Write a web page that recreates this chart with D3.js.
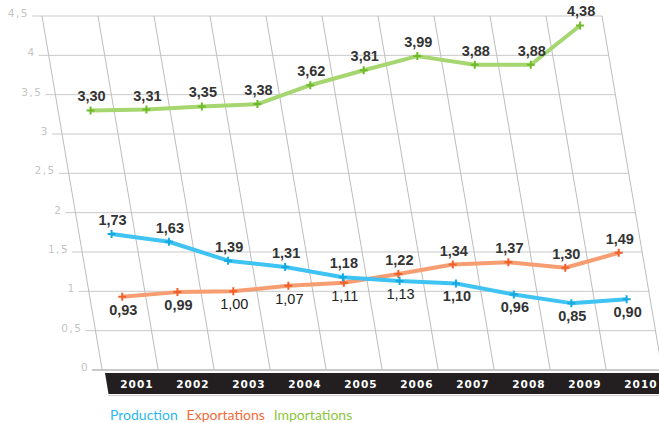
<!DOCTYPE html>
<html>
<head>
<meta charset="utf-8">
<script src="https://cdn.jsdelivr.net/npm/d3@7"></script>
<style>
  html, body { margin: 0; padding: 0; background: #fff; }
  svg { display: block; }
</style>
</head>
<body>
<svg id="chart" width="659" height="423"></svg>
<script>
/* global d3 */

// data
const years = ['2001', '2002', '2003', '2004', '2005', '2006', '2007', '2008', '2009', '2010'];
const production = [1.73, 1.63, 1.39, 1.31, 1.18, 1.13, 1.10, 0.96, 0.85, 0.90];
const exportations = [0.93, 0.99, 1.00, 1.07, 1.11, 1.22, 1.34, 1.37, 1.30, 1.49];
const importations = [3.30, 3.31, 3.35, 3.38, 3.62, 3.81, 3.99, 3.88, 3.88, 4.38];
const yTicks = [0, 0.5, 1, 1.5, 2, 2.5, 3, 3.5, 4, 4.5];
const seriesNames = ['Production', 'Exportations', 'Importations'];

// where each value label sits (1 = above the point)
const productionSide = [1, 1, 1, 1, 1, 0, 0, 0, 0, 0];
const exportationsSide = [0, 0, 0, 0, 0, 1, 1, 1, 1, 1];
const importationsSide = [1, 1, 1, 1, 1, 1, 1, 1, 1, 1];

const svg = d3.select('#chart');
const W = 659;
const plotTop = 16;
const plotBottom = 370;
const skew = 0.17;
const sx = (x, y) => x + skew * (y - plotTop);

const yScale = d3.scaleLinear().domain([0, 4.5]).range([plotBottom, plotTop]);
const xScale = d3.scaleBand().domain(years).range([42, 602]);
const xc = yr => xScale(yr) + xScale.bandwidth() / 2 + 4.5;

const fmt = v => v.toFixed(2).replace('.', ',');
const fmtTick = v => String(v).replace('.', ',');

const grid = svg.append('g');

// horizontal grid lines
grid.selectAll('.hgrid').data(yTicks).enter()
  .append('line')
  .attr('class', 'hgrid')
  .attr('x1', d => sx(32, yScale(d)))
  .attr('x2', d => sx(602, yScale(d)))
  .attr('y1', d => yScale(d))
  .attr('y2', d => yScale(d))
  .style('stroke', '#c9c9c9')
  .style('stroke-width', d => (d === 0 ? 2 : 1));

// slanted vertical grid lines
const edges = years.map(yr => xScale(yr)).concat([xScale.range()[1]]);
grid.selectAll('.vgrid').data(edges).enter()
  .append('line')
  .attr('class', 'vgrid')
  .attr('x1', d => sx(d, plotTop))
  .attr('y1', plotTop)
  .attr('x2', d => sx(d, plotBottom))
  .attr('y2', plotBottom)
  .style('stroke', '#bdbdbd')
  .style('stroke-width', 1);

// y tick labels
svg.selectAll('.ytick').data(yTicks).enter()
  .append('text')
  .attr('class', 'ytick')
  .attr('x', d => sx(29, yScale(d)))
  .attr('y', d => yScale(d) + 1)
  .attr('text-anchor', 'end')
  .style('font-family', '"DejaVu Sans", sans-serif')
  .style('font-size', '10.5px')
  .style('letter-spacing', '1.5px')
  .style('fill', '#c4c4c4')
  .text(d => fmtTick(d));

// black year band
svg.append('path')
  .attr('d', `M105,373 L${W},373 L${W},394 L108.5,394 Z`)
  .style('fill', '#231f20');
svg.append('line')
  .attr('x1', 108).attr('x2', W).attr('y1', 395.5).attr('y2', 395.5)
  .style('stroke', '#cfcfcf').style('stroke-width', 1);

svg.selectAll('.year').data(years).enter()
  .append('text')
  .attr('class', 'year')
  .attr('x', d => sx(xc(d), 383))
  .attr('y', 387.5)
  .attr('text-anchor', 'middle')
  .style('font-family', '"DejaVu Sans", sans-serif')
  .style('font-weight', 'bold')
  .style('font-size', '10.5px')
  .style('letter-spacing', '1px')
  .style('fill', '#ffffff')
  .text(d => d);

// series
const series = [
  { name: 'Importations', values: importations, side: importationsSide, line: '#a6d66f', mark: '#6dbb2a' },
  { name: 'Exportations', values: exportations, side: exportationsSide, line: '#f79d72', mark: '#f0602a' },
  { name: 'Production', values: production, side: productionSide, line: '#3ec3f2', mark: '#15a9e2' },
];

const regular = new Set(['Exportations:2003', 'Exportations:2004', 'Exportations:2005', 'Production:2006']);

const lineGen = d3.line()
  .x(d => d.px)
  .y(d => d.py);

series.forEach((s) => {
  const pts = s.values.map((v, i) => {
    const py = yScale(v);
    return { yr: years[i], v, py, px: sx(xc(years[i]), py), side: s.side[i] };
  });

  svg.append('path')
    .datum(pts)
    .attr('d', lineGen)
    .style('fill', 'none')
    .style('stroke', s.line)
    .style('stroke-width', 4)
    .style('stroke-linejoin', 'round');

  const marks = svg.selectAll(null).data(pts).enter().append('g')
    .attr('transform', d => `translate(${d.px},${d.py})`);
  marks.append('path')
    .attr('d', 'M-4,0 L4,0 M0,-4 L0,4')
    .style('stroke', s.mark)
    .style('stroke-width', 2);

  svg.selectAll(null).data(pts).enter()
    .append('text')
    .attr('x', d => d.px + 1)
    .attr('y', d => (d.side ? d.py - 9 : d.py + 18))
    .attr('text-anchor', 'middle')
    .style('font-family', '"Liberation Sans", Arial, sans-serif')
    .style('font-weight', d => (regular.has(`${s.name}:${d.yr}`) ? 'normal' : 'bold'))
    .style('font-size', '14.5px')
    .style('fill', d => (regular.has(`${s.name}:${d.yr}`) ? '#222222' : '#333333'))
    .text(d => fmt(d.v));
});

// legend
const legendColors = { Production: '#2bb8ee', Exportations: '#f26b3a', Importations: '#8cc63f' };
const legend = svg.append('text')
  .attr('x', 110)
  .attr('y', 420)
  .style('font-family', 'Lato, sans-serif')
  .style('font-size', '14px');
seriesNames.forEach((n, i) => {
  legend.append('tspan')
    .attr('dx', i === 0 ? 0 : 9)
    .style('fill', legendColors[n])
    .text(n);
});
</script>
</body>
</html>
